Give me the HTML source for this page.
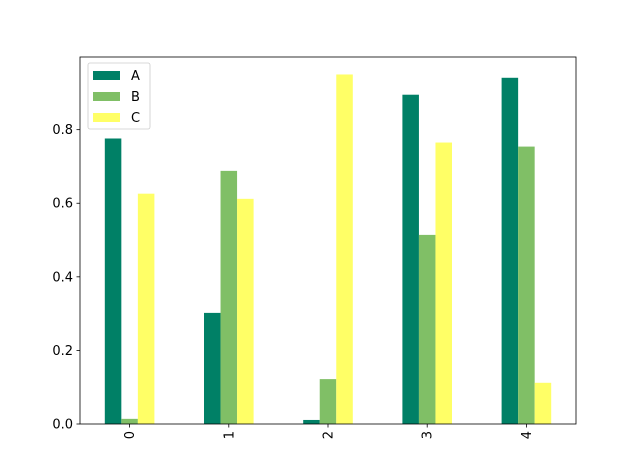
<!DOCTYPE html>
<html><head><meta charset="utf-8"><style>
html,body{margin:0;padding:0;background:#fff;}
svg{display:block;font-family:"DejaVu Sans","Liberation Sans",sans-serif;}
</style></head><body>
<svg id="chart" width="640" height="476" viewBox="0 0 640 476">
<g id="bars"></g>
<g id="yaxis"></g>
<g id="xaxis"></g>
<rect x="80" y="57" width="496" height="367" fill="none" stroke="#000" stroke-width="0.8"/>
<g>
<rect x="88" y="63" width="62" height="66" rx="2" fill="#fff" fill-opacity="0.8" stroke="#ccc" stroke-width="0.8"/>
<g><rect x="93" y="71" width="27" height="9" fill="#008066"/><text x="131" y="80" font-size="13">A</text></g>
<g><rect x="93" y="92" width="27" height="9" fill="#80bf66"/><text x="131" y="101" font-size="13">B</text></g>
<g><rect x="93" y="113" width="27" height="9" fill="#ffff66"/><text x="131" y="122" font-size="13">C</text></g>
</g>
</svg>
<script>
const categories = ["0","1","2","3","4"];
const seriesNames = ["A","B","C"];
const seriesA = [0.776, 0.302, 0.011, 0.895, 0.941];
const seriesB = [0.014, 0.688, 0.122, 0.514, 0.754];
const seriesC = [0.626, 0.612, 0.950, 0.765, 0.112];
const yTicks = [0.0, 0.2, 0.4, 0.6, 0.8];
const yTickLabels = ["0.0","0.2","0.4","0.6","0.8"];

const colors = ["#008066","#80bf66","#ffff66"];
const NS = "http://www.w3.org/2000/svg";
const L=80,R=576,T=57,B=424, yMax=0.9975;
const xScale = i => L + (i + 0.5) * (R - L) / categories.length;
const yScale = v => B - v / yMax * (B - T);
const unit = (R - L) / categories.length;
const bw = unit * 0.5 / 3;
const series = [seriesA, seriesB, seriesC];
const gb = document.getElementById("bars");
series.forEach((s, si) => {
  s.forEach((v, i) => {
    const r = document.createElementNS(NS, "rect");
    const x = xScale(i) - unit * 0.25 + si * bw;
    r.setAttribute("x", x); r.setAttribute("width", bw);
    r.setAttribute("y", yScale(v)); r.setAttribute("height", B - yScale(v));
    r.setAttribute("fill", colors[si]);
    
    
    gb.appendChild(r);
  });
});
const gy = document.getElementById("yaxis");
yTicks.forEach((t, i) => {
  const y = yScale(t);
  const l = document.createElementNS(NS, "line");
  l.setAttribute("x1", L - 3.5); l.setAttribute("x2", L); l.setAttribute("y1", y); l.setAttribute("y2", y);
  l.setAttribute("stroke", "#000"); l.setAttribute("stroke-width", "0.8");
  
  
  gy.appendChild(l);
  const tx = document.createElementNS(NS, "text");
  tx.setAttribute("x", L - 7); tx.setAttribute("y", y + 4.5);
  tx.setAttribute("text-anchor", "end"); tx.setAttribute("font-size", "13");
  tx.textContent = yTickLabels[i];
  
  
  gy.appendChild(tx);
});
const gx = document.getElementById("xaxis");
categories.forEach((c, i) => {
  const x = xScale(i);
  const l = document.createElementNS(NS, "line");
  l.setAttribute("x1", x); l.setAttribute("x2", x); l.setAttribute("y1", B); l.setAttribute("y2", B + 3.5);
  l.setAttribute("stroke", "#000"); l.setAttribute("stroke-width", "0.8");
  
  
  gx.appendChild(l);
  const tx = document.createElementNS(NS, "text");
  tx.setAttribute("transform", "translate(" + (x + 4.5) + "," + (B + 7) + ") rotate(-90)");
  tx.setAttribute("text-anchor", "end"); tx.setAttribute("font-size", "13");
  tx.textContent = c;
  
  
  gx.appendChild(tx);
});
</script>
</body></html>
